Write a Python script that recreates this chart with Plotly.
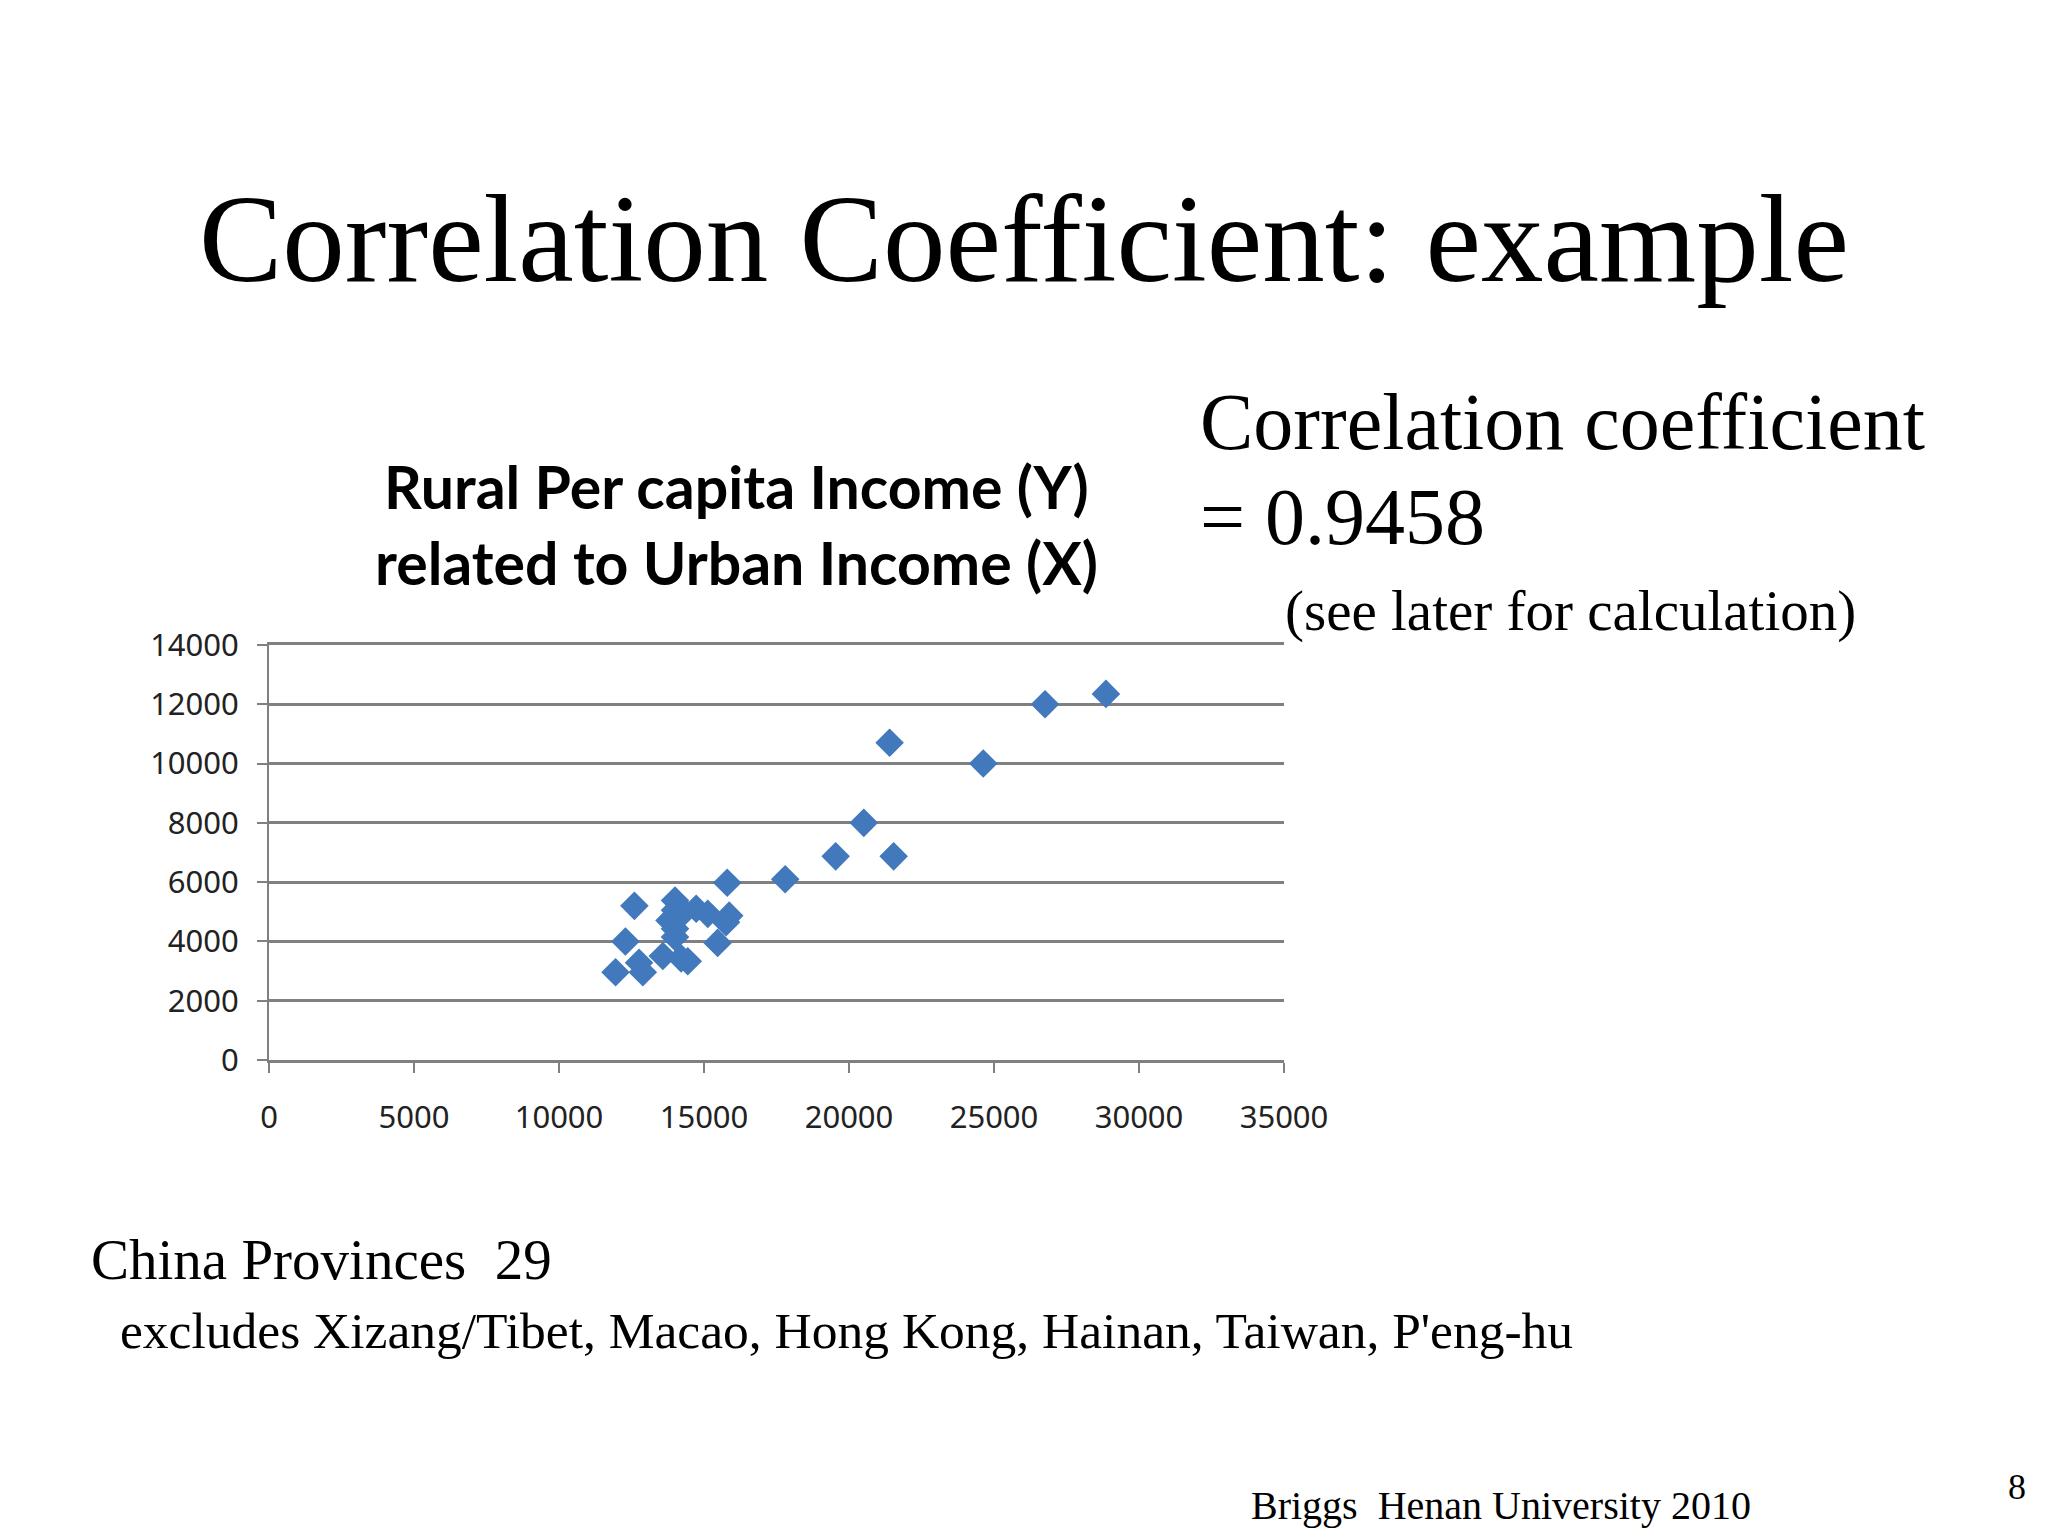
import plotly.graph_objects as go

# values
urban_income = [11950, 12600, 12290, 12760, 12890, 13580, 14000, 13810, 14000, 13950,
                14000, 14210, 14440, 14730, 14000, 14320, 15130, 15470, 15870, 15760,
                15800, 17800, 19540, 21540, 20510, 21400, 24630, 26760, 28860]
rural_income = [2960, 5200, 4000, 3280, 2960, 3510, 5380, 4710, 4430, 4800,
                4150, 3430, 3330, 5100, 5050, 5000, 4930, 3950, 4870, 4650,
                5980, 6100, 6870, 6870, 8000, 10700, 10000, 12000, 12350]
x_ticks = [0, 5000, 10000, 15000, 20000, 25000, 30000, 35000]
y_ticks = [0, 2000, 4000, 6000, 8000, 10000, 12000, 14000]

W, H = 2048, 1536
L, R, T, B = 269, 1284, 645, 1060
SERIF = "Liberation Serif"
GRID = "#808080"

fig = go.Figure(
    go.Scatter(
        x=urban_income,
        y=rural_income,
        mode="markers",
        marker=dict(symbol="diamond", size=22, color="#4279bd"),
        cliponaxis=False,
    )
)


def text(s, x, y, size, anchor="left", font=SERIF, color="black"):
    # x, y are slide pixels, converted to plot fractions
    fig.add_annotation(
        text=s,
        x=(x - L) / (R - L),
        y=(B - y) / (B - T),
        xref="paper",
        yref="paper",
        xanchor=anchor,
        yanchor="middle",
        showarrow=False,
        font=dict(family=font, size=size, color=color),
    )


text("Correlation Coefficient: example", 1024, 239, 125, "center")
text("Correlation coefficient", 1198, 422, 80)
text("= 0.9458", 1198, 517, 80)
text("(see later for calculation)", 1283, 611, 57)
text("China Provinces\u00a0\u00a029", 89, 1259, 57)
text("excludes Xizang/Tibet, Macao, Hong Kong, Hainan, Taiwan, P'eng-hu", 118, 1330, 51.5)
text("Briggs\u00a0\u00a0Henan University 2010", 1249, 1505, 40)
text("8", 2006, 1487, 36)
text("<b>Rural Per capita Income (Y)</b>", 736, 486, 59, "center", "Lato")
text("<b>related to Urban Income (X)</b>", 736, 562, 59, "center", "Lato")

fig.update_xaxes(
    range=[0, 35000],
    tickvals=x_ticks,
    ticks="outside",
    ticklen=10,
    tickwidth=2,
    tickcolor=GRID,
    showline=True,
    mirror=True,
    linecolor=GRID,
    linewidth=2.5,
    showgrid=False,
    zeroline=False,
    ticklabelstandoff=18,
    tickfont=dict(family="Noto Sans", size=31, color="#222222"),
    tickformat="d",
)
fig.update_yaxes(
    range=[0, 14000],
    tickvals=y_ticks,
    ticks="outside",
    ticklen=10,
    tickwidth=2,
    tickcolor=GRID,
    showline=True,
    linecolor=GRID,
    linewidth=2,
    showgrid=True,
    gridcolor=GRID,
    gridwidth=2.5,
    zeroline=False,
    ticklabelstandoff=12,
    tickfont=dict(family="Noto Sans", size=31, color="#222222"),
    tickformat="d",
)
fig.update_layout(
    width=W,
    height=H,
    margin=dict(l=L, r=W - R, t=T, b=H - B),
    paper_bgcolor="white",
    plot_bgcolor="white",
    showlegend=False,
)
fig.write_html(
    "out.html",
    config={"displayModeBar": False},
    post_script="document.body.style.margin='0';",
)
